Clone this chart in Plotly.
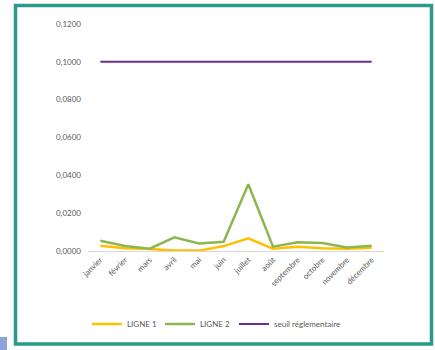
import plotly.graph_objects as go

mois = ["janvier", "février", "mars", "avril", "mai", "juin", "juillet", "août",
        "septembre", "octobre", "novembre", "décembre"]
ligne1 = [0.0028, 0.0014, 0.0010, 0.0002, 0.0002, 0.0026, 0.0067, 0.0012, 0.0023, 0.0014, 0.0012, 0.0017]
ligne2 = [0.0054, 0.0026, 0.0012, 0.0072, 0.0040, 0.0049, 0.0353, 0.0023, 0.0046, 0.0042, 0.0019, 0.0028]
seuil = [0.1] * 12
y_ticks = [0.0, 0.02, 0.04, 0.06, 0.08, 0.10, 0.12]

W, H = 435, 350
L, R, T, B = 88, 384, 24, 251  # plot area in pixels
pw, ph = R - L, B - T

def px(x):
    return (x - L) / pw

def py(y):
    return (B - y) / ph

fig = go.Figure()
fig.add_trace(go.Scatter(x=mois, y=ligne1, mode="lines", name="LIGNE 1",
                         line=dict(color="#FFC000", width=2.5), legend="legend"))
fig.add_trace(go.Scatter(x=mois, y=ligne2, mode="lines", name="LIGNE 2",
                         line=dict(color="#8DB652", width=2.5), legend="legend"))
fig.add_trace(go.Scatter(x=mois, y=seuil, mode="lines", name="seuil réglementaire",
                         line=dict(color="#6A2F8E", width=2), legend="legend2"))

teal = "#2A9A8B"
shapes = [
    dict(type="rect", xref="paper", yref="paper",
         x0=px(15.5), x1=px(431.5), y0=py(5.5), y1=py(344),
         line=dict(color=teal, width=3.5), fillcolor="rgba(0,0,0,0)", layer="below"),
    dict(type="rect", xref="paper", yref="paper",
         x0=px(0), x1=px(7), y0=py(337), y1=py(350),
         line=dict(width=0), fillcolor="#8CA3DA", layer="below"),
]

leg_common = dict(orientation="h", yanchor="middle", y=py(324), xanchor="left",
                  font=dict(size=8, color="#595959"), bgcolor="rgba(0,0,0,0)",
                  tracegroupgap=0, itemwidth=30)

fig.update_layout(
    width=W, height=H,
    margin=dict(l=L, r=W - R, t=T, b=H - B),
    paper_bgcolor="white", plot_bgcolor="white",
    separators=", ",
    font=dict(family="Lato, Open Sans, sans-serif", size=8, color="#595959"),
    showlegend=True,
    legend=dict(x=px(87), entrywidth=28, entrywidthmode="pixels", **leg_common),
    legend2=dict(x=px(234), **leg_common),
    shapes=shapes,
)
fig.update_xaxes(type="category", range=[-0.5, 11.5], showgrid=False, zeroline=False,
                 showline=True, linecolor="#D9D9D9", linewidth=1,
                 tickangle=-45, ticks="", tickfont=dict(size=8, color="#595959"))
fig.update_yaxes(range=[0, 0.12], tickvals=y_ticks, tickformat=".4f", showgrid=False,
                 zeroline=False, showline=False, ticks="", ticklabelstandoff=6,
                 tickfont=dict(size=8, color="#595959"))

fig.write_html("out.html")
